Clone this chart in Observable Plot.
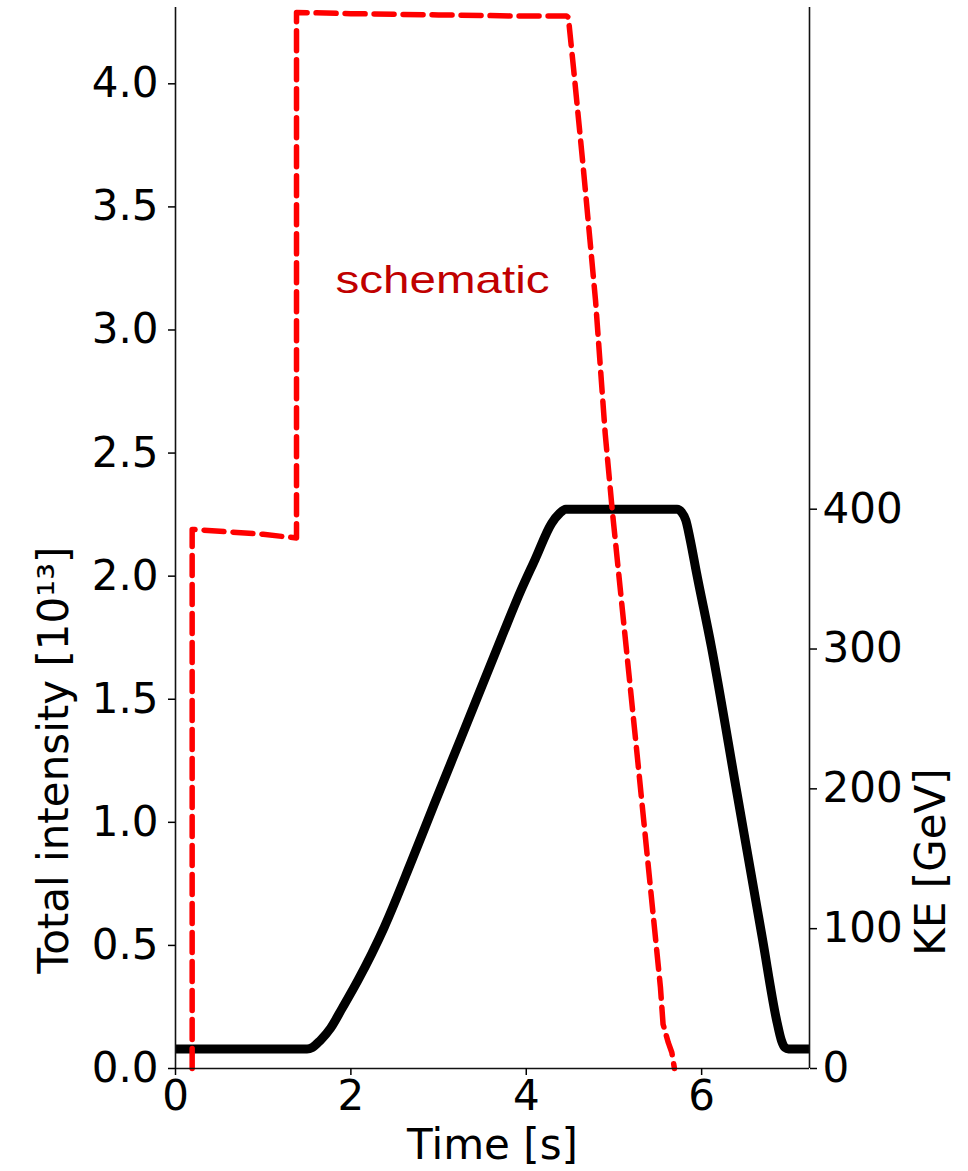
<!DOCTYPE html>
<html>
<head>
<meta charset="utf-8">
<script src="https://cdn.jsdelivr.net/npm/d3@7"></script>
<script src="https://cdn.jsdelivr.net/npm/@observablehq/plot@0.6"></script>
<style>
  html, body { margin: 0; padding: 0; background: #fff; }
</style>
</head>
<body>
<div id="chart"></div>
<script>
// ---- data ----
// Kinetic energy cycle (black, right axis) : time [s], KE [GeV]
const keTime = [0, 1.50, 1.56, 1.65, 1.77, 1.90, 2.08, 2.38, 2.69, 2.95, 3.26, 3.71, 3.94, 4.10, 4.29, 4.38, 4.45, 5.72, 5.77, 5.82, 5.87, 5.94, 6.11, 6.40, 6.69, 6.86, 6.91, 6.95, 6.99, 7.23];
const keValue = [14, 14, 15, 20, 29, 43, 63, 101, 148, 189, 237, 307, 342, 364, 390, 397, 400, 400, 398, 392, 378, 355, 302, 198, 94, 33, 20, 15, 14, 14];

// Total intensity (red dashed, left axis) : time [s], intensity [1e13]
const intTime = [0.19, 0.19, 0.6, 1.0, 1.38, 1.38, 2.0, 3.0, 4.0, 4.46, 4.48, 4.54, 4.65, 4.79, 4.90, 4.98, 5.26, 5.53, 5.56, 5.62, 5.66, 5.69];
const intValue = [0, 2.19, 2.18, 2.17, 2.155, 4.29, 4.285, 4.28, 4.275, 4.275, 4.27, 4.06, 3.66, 3.12, 2.58, 2.27, 1.29, 0.33, 0.18, 0.105, 0.065, 0];

// axis ticks
const xTicks = [0, 2, 4, 6];
const leftTicks = [0, 0.5, 1.0, 1.5, 2.0, 2.5, 3.0, 3.5, 4.0];
const rightTicks = [0, 100, 200, 300, 400];

// labels
const xLabel = "Time [s]";
const leftLabel = "Total intensity [10¹³]";
const rightLabel = "KE [GeV]";
const annotation = "schematic";

// scale limits
const xMax = 7.23;
const leftMax = 4.31;
const keToLeft = 0.00568;   // 1 GeV on the right axis expressed in left-axis units

const keData = keTime.map((t, i) => ({t, v: keValue[i] * keToLeft}));
const intData = intTime.map((t, i) => ({t, v: intValue[i]}));

const FS = 42;

const chart = Plot.plot({
  width: 968,
  height: 1171,
  marginLeft: 175,
  marginRight: 159,
  marginTop: 7,
  marginBottom: 103,
  style: {fontFamily: "DejaVu Sans, sans-serif", fontSize: FS + "px", background: "#fff", color: "#000"},
  x: {domain: [0, xMax]},
  y: {domain: [0, leftMax]},
  marks: [
    Plot.lineY(keData, {x: "t", y: "v", stroke: "#000", strokeWidth: 9, strokeLinejoin: "round", strokeLinecap: "butt", curve: "monotone-x"}),
    Plot.lineY(intData, {x: "t", y: "v", stroke: "#ff0000", strokeWidth: 5.5, strokeDasharray: "20,9", strokeLinejoin: "round"}),
    Plot.text([annotation], {x: 3.045, y: 3.199, text: d => d, fill: "#c00000", fontSize: 39, fontFamily: "Liberation Sans, Arial, sans-serif", textAnchor: "middle"}),
    Plot.ruleX([0, xMax], {stroke: "#111", strokeWidth: 1.6}),
    Plot.ruleY([0], {stroke: "#111", strokeWidth: 1.6}),
    Plot.axisX(xTicks, {tickSize: 7, tickPadding: 5, fontSize: FS, label: null, strokeWidth: 1.5}),
    Plot.axisY(leftTicks, {anchor: "left", tickSize: 7, tickPadding: 10, tickFormat: d3.format(".1f"), fontSize: FS, label: null, strokeWidth: 1.5}),
    Plot.axisY(rightTicks.map(v => v * keToLeft), {anchor: "right", tickSize: 7, tickPadding: 6, tickFormat: d => String(Math.round(d / keToLeft)), fontSize: FS, label: null, strokeWidth: 1.5}),
    Plot.text([xLabel], {text: d => d, frameAnchor: "bottom", textAnchor: "middle", dy: 90, fontSize: FS}),
    Plot.text([leftLabel], {text: d => d, frameAnchor: "left", textAnchor: "middle", dx: -121, dy: 222, rotate: -90, fontSize: FS}),
    Plot.text([rightLabel], {text: d => d, frameAnchor: "right", textAnchor: "middle", dx: 122, dy: 324, rotate: -90, fontSize: FS})
  ]
});

// stretch the annotation to the width it has in the reference
chart.querySelectorAll("text").forEach(t => {
  if (t.textContent === annotation) {
    t.setAttribute("textLength", 214);
    t.setAttribute("lengthAdjust", "spacingAndGlyphs");
  }
});

document.getElementById("chart").appendChild(chart);
</script>
</body>
</html>
